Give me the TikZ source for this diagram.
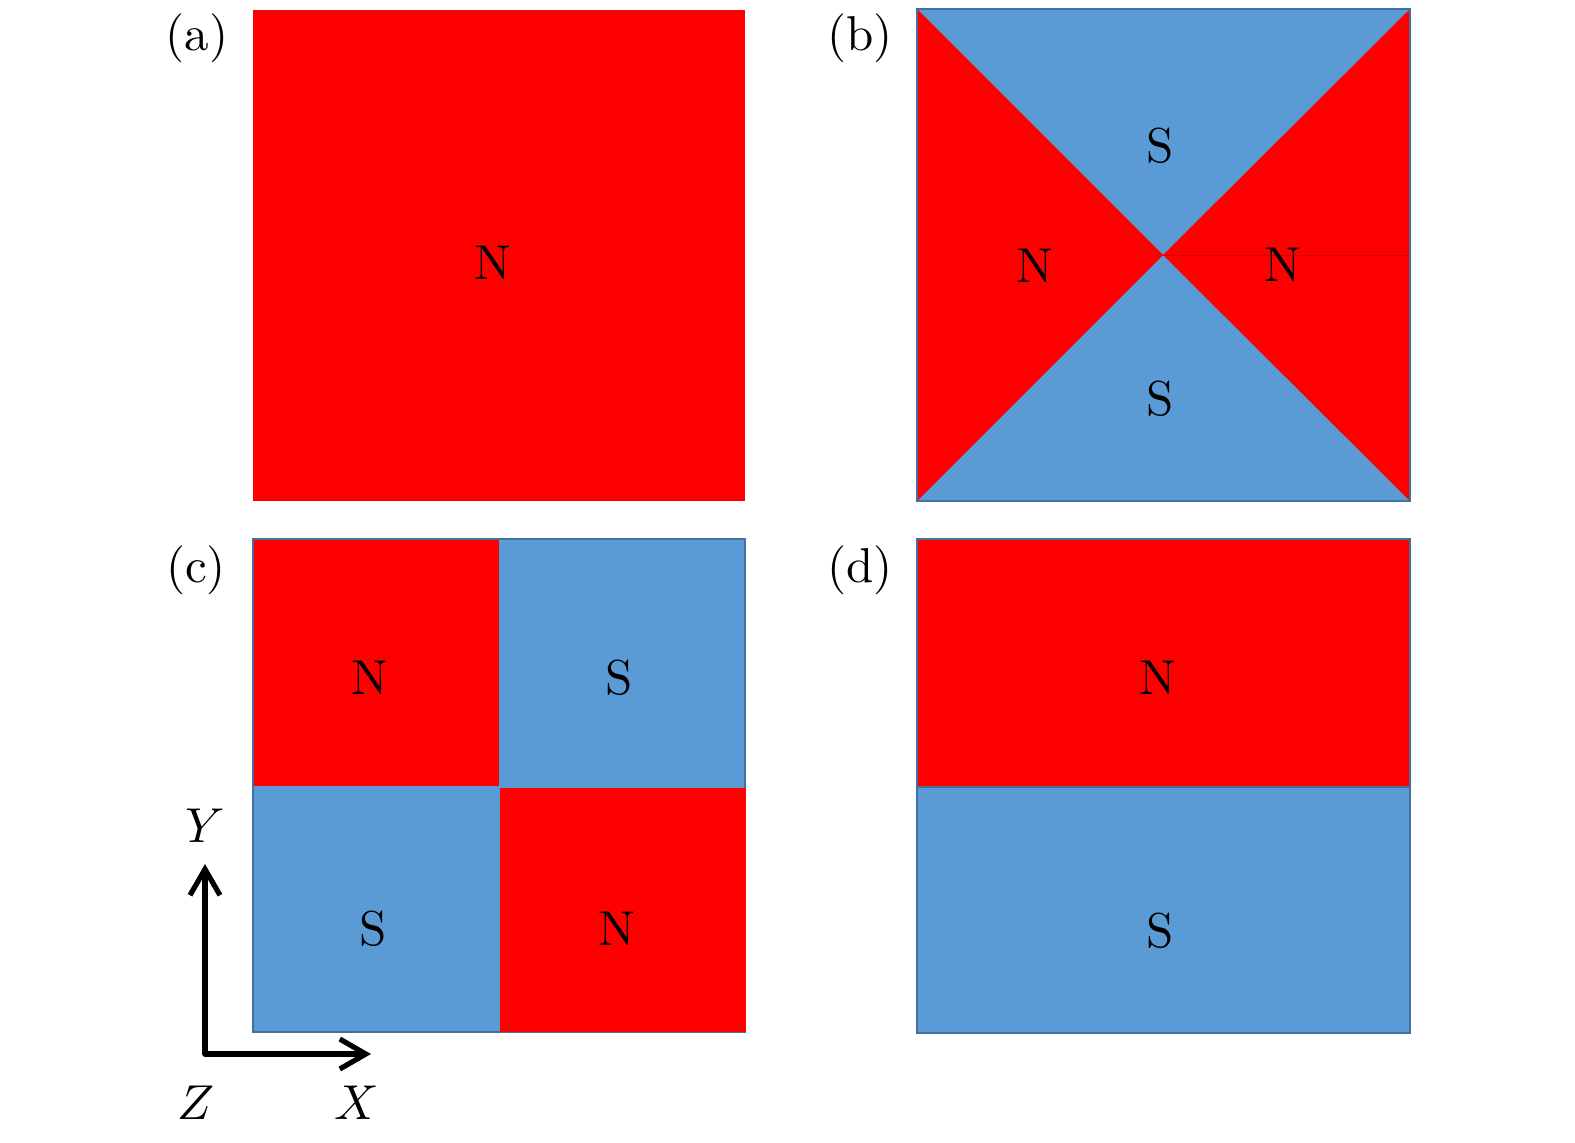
\documentclass[tikz,border=0pt]{standalone}
\usetikzlibrary{arrows.meta}
\definecolor{pred}{HTML}{FF0000}
\definecolor{pblue}{HTML}{5B9BD5}
\definecolor{pedge}{HTML}{41719C}
\newcommand\bigtxt[1]{\scalebox{2.45}{#1}}
\begin{document}
\begin{tikzpicture}[x=0.5pt,y=-0.5pt,
  lab/.style={font=\normalsize, inner sep=0pt},
  pole/.style={font=\normalsize, inner sep=0pt},
  frame/.style={draw=pedge, line width=1.2pt},
  axis/.style={line width=2.6pt, line cap=round, line join=round,
    -{Straight Barb[length=13pt,width=15pt,line width=2.6pt]}}]
\useasboundingbox (0,0) rectangle (1575,1142);
% (a)
\fill[pred] (253,10) rectangle (745,501);
\node[pole] (aN) at (493,263) {\bigtxt{N}};
\node[lab] (la) at (197,38) {\bigtxt{(a)}};
% (b)
\coordinate (bc) at (1163,255);
\fill[pblue] (917,9) rectangle (1410,501);
\fill[pred] (917,9) -- (bc) -- (917,501) -- cycle;
\fill[pred] (1410,9) -- (bc) -- (1410,501) -- cycle;
\draw[pred!85!black, line width=0.3pt] (bc) -- (1410,255);
\draw[frame] (917,9) rectangle (1410,501);
\node[pole] (bS1) at (1160,146) {\bigtxt{S}};
\node[pole] (bN1) at (1035,266) {\bigtxt{N}};
\node[pole] (bN2) at (1283,265) {\bigtxt{N}};
\node[pole] (bS2) at (1160,399) {\bigtxt{S}};
\node[lab] (lb) at (860,38) {\bigtxt{(b)}};
% (c)
\draw[frame, fill=pblue] (253,539) rectangle (745,1032);
\fill[pred] (254,540) rectangle (499,786);
\fill[pred] (500,788) rectangle (746,1032);
\node[pole] (cN1) at (370,678) {\bigtxt{N}};
\node[pole] (cS1) at (619,678) {\bigtxt{S}};
\node[pole] (cS2) at (373,929) {\bigtxt{S}};
\node[pole] (cN2) at (617,929) {\bigtxt{N}};
\node[lab] (lc) at (196,570) {\bigtxt{(c)}};
% (d)
\draw[frame, fill=pblue] (917,539) rectangle (1410,1033);
\fill[pred] (918,540) rectangle (1409,786);
\draw[pedge, line width=1.2pt] (917,787) -- (1410,787);
\node[pole] (dN) at (1158,678) {\bigtxt{N}};
\node[pole] (dS) at (1160,931) {\bigtxt{S}};
\node[lab] (ld) at (860,570) {\bigtxt{(d)}};
% axes
\coordinate (o) at (205,1054);
\coordinate (ytip) at (205,864);
\coordinate (xtip) at (371,1054);
\draw[axis] (o) -- (ytip);
\draw[axis] (o) -- (xtip);
\node[lab] (Y) at (205,826) {\bigtxt{$Y$}};
\node[lab] (Z) at (196,1103) {\bigtxt{$Z$}};
\node[lab] (X) at (357,1103) {\bigtxt{$X$}};
\end{tikzpicture}
\end{document}
